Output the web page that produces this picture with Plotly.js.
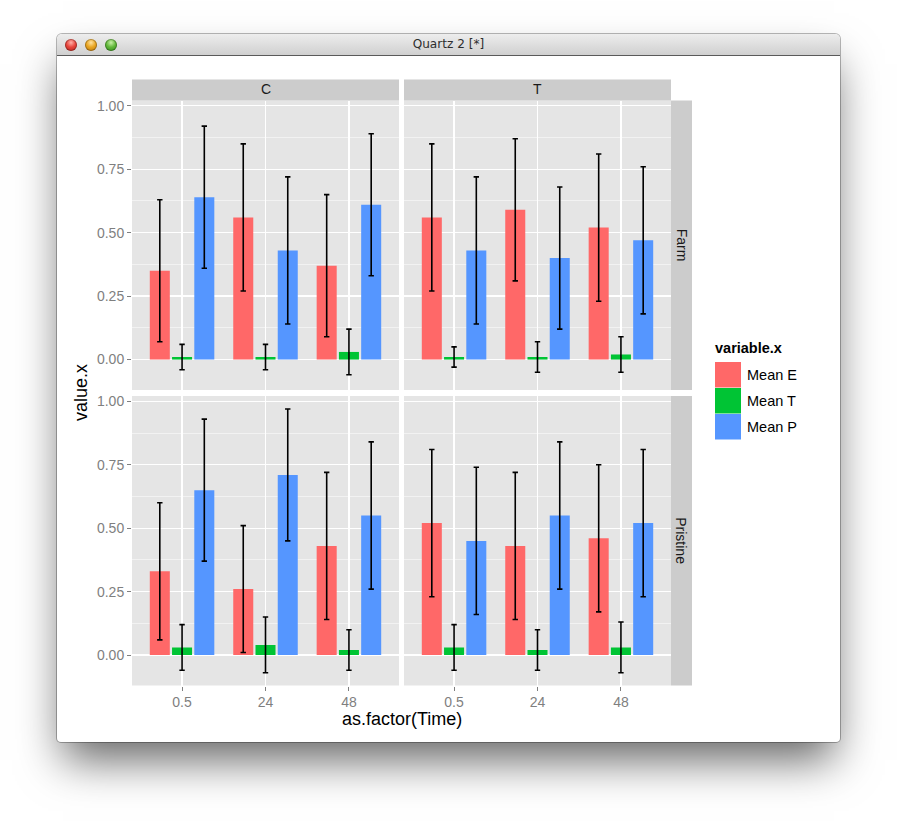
<!DOCTYPE html>
<html>
<head>
<meta charset="utf-8">
<script src="https://cdn.plot.ly/plotly-3.0.1.min.js"></script>
<style>
  html, body { margin:0; padding:0; background:#ffffff; width:897px; height:821px; overflow:hidden; }
  #win { position:absolute; left:57px; top:34px; width:783px; height:708px; background:#ffffff;
         border-radius:5px 5px 4px 4px;
         box-shadow: 0 24px 42px -6px rgba(0,0,0,0.6), 0 0 0 1px rgba(0,0,0,0.28); }
  #bar { position:absolute; left:0; top:0; width:783px; height:21px; border-radius:5px 5px 0 0;
         background: linear-gradient(#ededed, #d0d0d0); border-bottom:1px solid #5a5a5a; }
  #ttl { position:absolute; left:0; width:783px; top:2px; text-align:center;
         font-family:"DejaVu Sans", sans-serif; font-size:13px; color:#2e2e2e; }
  #ttl span { display:inline-block; transform:scaleX(0.93); }
  .dot { position:absolute; top:5px; width:12px; height:12px; border-radius:50%;
         box-shadow: inset 0 0 0 1px rgba(0,0,0,0.25); }
  #d1 { left:8px;  background: radial-gradient(circle at 50% 30%, #ffb0a8 0%, #e8453c 45%, #b0221b 100%); }
  #d2 { left:28px; background: radial-gradient(circle at 50% 30%, #ffe2a0 0%, #e9a520 45%, #b67410 100%); }
  #d3 { left:48px; background: radial-gradient(circle at 50% 30%, #c8f0a8 0%, #62b83a 45%, #2f8a1c 100%); }
  #chart { position:absolute; left:0; top:0; width:897px; height:821px; }
</style>
</head>
<body>
<div id="win">
  <div id="bar">
    <div class="dot" id="d1"></div><div class="dot" id="d2"></div><div class="dot" id="d3"></div>
    <div id="ttl"><span>Quartz 2 [*]</span></div>
  </div>
</div>
<div id="chart"></div>
<script>
// ---------------- data ----------------
const times = ['0.5', '24', '48'];
const seriesNames = ['Mean E', 'Mean T', 'Mean P'];
const seriesColors = ['#FF6868', '#00C434', '#5596FF'];
const colTreat = ['C', 'T'];
const rowSite = ['Farm', 'Pristine'];

// C / Farm
const C_Farm_E = [0.35, 0.56, 0.37];  const C_Farm_E_err = [0.28, 0.29, 0.28];
const C_Farm_T = [0.01, 0.01, 0.03];  const C_Farm_T_err = [0.05, 0.05, 0.09];
const C_Farm_P = [0.64, 0.43, 0.61];  const C_Farm_P_err = [0.28, 0.29, 0.28];
// T / Farm
const T_Farm_E = [0.56, 0.59, 0.52];  const T_Farm_E_err = [0.29, 0.28, 0.29];
const T_Farm_T = [0.01, 0.01, 0.02];  const T_Farm_T_err = [0.04, 0.06, 0.07];
const T_Farm_P = [0.43, 0.40, 0.47];  const T_Farm_P_err = [0.29, 0.28, 0.29];
// C / Pristine
const C_Pristine_E = [0.33, 0.26, 0.43];  const C_Pristine_E_err = [0.27, 0.25, 0.29];
const C_Pristine_T = [0.03, 0.04, 0.02];  const C_Pristine_T_err = [0.09, 0.11, 0.08];
const C_Pristine_P = [0.65, 0.71, 0.55];  const C_Pristine_P_err = [0.28, 0.26, 0.29];
// T / Pristine
const T_Pristine_E = [0.52, 0.43, 0.46];  const T_Pristine_E_err = [0.29, 0.29, 0.29];
const T_Pristine_T = [0.03, 0.02, 0.03];  const T_Pristine_T_err = [0.09, 0.08, 0.10];
const T_Pristine_P = [0.45, 0.55, 0.52];  const T_Pristine_P_err = [0.29, 0.29, 0.29];

const yTicks = [0, 0.25, 0.5, 0.75, 1.0];
const yTickText = ['0.00', '0.25', '0.50', '0.75', '1.00'];

// ---------------- build ----------------
const W = 897, H = 821;
const fx = p => p / W;
const fy = p => 1 - p / H;

const panels = [
  {xa:'x',  ya:'y',  s:[[C_Farm_E, C_Farm_E_err],[C_Farm_T, C_Farm_T_err],[C_Farm_P, C_Farm_P_err]]},
  {xa:'x2', ya:'y',  s:[[T_Farm_E, T_Farm_E_err],[T_Farm_T, T_Farm_T_err],[T_Farm_P, T_Farm_P_err]]},
  {xa:'x',  ya:'y2', s:[[C_Pristine_E, C_Pristine_E_err],[C_Pristine_T, C_Pristine_T_err],[C_Pristine_P, C_Pristine_P_err]]},
  {xa:'x2', ya:'y2', s:[[T_Pristine_E, T_Pristine_E_err],[T_Pristine_T, T_Pristine_T_err],[T_Pristine_P, T_Pristine_P_err]]}
];

const traces = [];
panels.forEach(p => {
  p.s.forEach((pair, i) => {
    traces.push({
      type:'bar', x: times, y: pair[0], xaxis: p.xa, yaxis: p.ya,
      name: seriesNames[i], showlegend:false,
      marker:{color: seriesColors[i], line:{width:0}},
      error_y:{type:'data', array: pair[1], visible:true, color:'#000000', thickness:1.6, width:2.7},
      hoverinfo:'skip'
    });
  });
});

const FONT = 'Liberation Sans, Arial, sans-serif';
const xCol1 = [fx(132), fx(399)], xCol2 = [fx(404), fx(671)];
const yRow1 = [fy(390), fy(100.5)], yRow2 = [fy(685.5), fy(396)];
const yRange = [-0.12, 1.021];

function xAxis(dom) {
  return {domain: dom, anchor:'y2', type:'category', range:[-0.6, 2.6],
    showgrid:true, gridcolor:'#FFFFFF', gridwidth:1.3, zeroline:false, showline:false,
    ticks:'outside', ticklen:4, tickwidth:1, tickcolor:'#7F7F7F',
    tickfont:{family:FONT, size:14, color:'#7F7F7F'}, fixedrange:true};
}
function yAxis(dom) {
  return {domain: dom, anchor:'x', range: yRange, tickmode:'array', tickvals: yTicks, ticktext: yTickText,
    showgrid:true, gridcolor:'#FFFFFF', gridwidth:1.3, zeroline:false, showline:false,
    minor:{tickmode:'array', tickvals:[-0.125, 0.125, 0.375, 0.625, 0.875], showgrid:true, gridcolor:'#F2F2F2', gridwidth:1, ticks:''},
    ticks:'outside', ticklen:4, tickwidth:1, tickcolor:'#7F7F7F',
    tickfont:{family:FONT, size:14, color:'#7F7F7F'}, fixedrange:true};
}

const shapes = [];
const annotations = [];
// top strips
[[132, 399, colTreat[0]], [404, 671, colTreat[1]]].forEach(s => {
  shapes.push({type:'rect', xref:'paper', yref:'paper', x0:fx(s[0]), x1:fx(s[1]), y0:fy(100.5), y1:fy(79.5),
    fillcolor:'#CCCCCC', line:{width:0}});
  annotations.push({xref:'paper', yref:'paper', x:fx((s[0]+s[1])/2), y:fy(89), text:s[2], showarrow:false,
    xanchor:'center', yanchor:'middle', font:{family:FONT, size:14, color:'#1A1A1A'}});
});
// right strips
[[100.5, 390, rowSite[0]], [396, 685.5, rowSite[1]]].forEach(s => {
  shapes.push({type:'rect', xref:'paper', yref:'paper', x0:fx(671), x1:fx(692), y0:fy(s[1]), y1:fy(s[0]),
    fillcolor:'#CCCCCC', line:{width:0}});
  annotations.push({xref:'paper', yref:'paper', x:fx(681.5), y:fy((s[0]+s[1])/2), text:s[2], showarrow:false,
    textangle:90, xanchor:'center', yanchor:'middle', font:{family:FONT, size:14, color:'#1A1A1A'}});
});
// axis titles
annotations.push({xref:'paper', yref:'paper', x:fx(401.5), y:fy(719), text:'as.factor(Time)', showarrow:false,
  xanchor:'center', yanchor:'middle', font:{family:FONT, size:18, color:'#000000'}});
annotations.push({xref:'paper', yref:'paper', x:fx(81), y:fy(393), text:'value.x', showarrow:false, textangle:-90,
  xanchor:'center', yanchor:'middle', font:{family:FONT, size:18, color:'#000000'}});
// legend
annotations.push({xref:'paper', yref:'paper', x:fx(713), y:fy(348), text:'<b>variable.x</b>', showarrow:false,
  xanchor:'left', yanchor:'middle', font:{family:FONT, size:14.5, color:'#000000'}});
const keyTops = [362, 388, 414];
seriesNames.forEach((n, i) => {
  shapes.push({type:'rect', xref:'paper', yref:'paper', x0:fx(715), x1:fx(741), y0:fy(keyTops[i]+25.5), y1:fy(keyTops[i]),
    fillcolor: seriesColors[i], line:{width:0}});
  annotations.push({xref:'paper', yref:'paper', x:fx(745), y:fy(keyTops[i]+13), text:n, showarrow:false,
    xanchor:'left', yanchor:'middle', font:{family:FONT, size:14.5, color:'#000000'}});
});

const layout = {
  width: W, height: H, margin:{l:0, r:0, t:0, b:0, pad:0},
  paper_bgcolor:'rgba(0,0,0,0)', plot_bgcolor:'#E5E5E5',
  barmode:'group', bargap:0.2, bargroupgap:0.1,
  showlegend:false,
  xaxis: xAxis(xCol1), xaxis2: xAxis(xCol2),
  yaxis: yAxis(yRow1), yaxis2: yAxis(yRow2),
  shapes: shapes, annotations: annotations,
  font:{family:FONT}
};

Plotly.newPlot('chart', traces, layout, {staticPlot:true, displayModeBar:false});
</script>
</body>
</html>
